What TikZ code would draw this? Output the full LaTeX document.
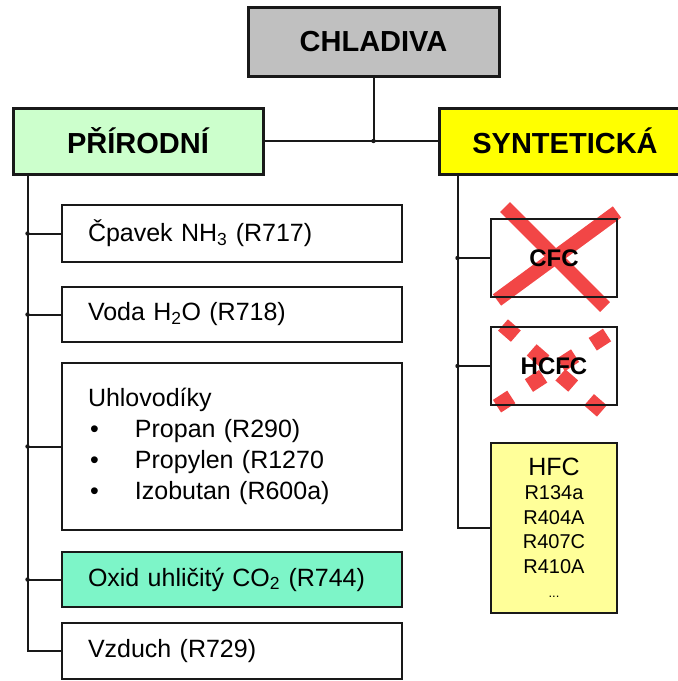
\documentclass[tikz,border=0pt]{standalone}
\usepackage{fontspec}
\setmainfont{Liberation Sans}
\usetikzlibrary{calc, positioning}
\definecolor{boxLine}{RGB}{25,25,25}
\definecolor{headGray}{RGB}{192,192,192}
\definecolor{natGreen}{RGB}{204,255,204}
\definecolor{synYellow}{RGB}{255,255,0}
\definecolor{oxidGreen}{RGB}{125,245,200}
\definecolor{hfcYellow}{RGB}{255,255,153}
\definecolor{crossRed}{RGB}{242,70,70}
\pgfdeclarelayer{background}
\pgfsetlayers{background,main}
\tikzstyle{catBox} = [rectangle, draw=boxLine, line width=3pt, inner sep=0pt, font=\fontsize{29}{33}\selectfont\bfseries]
\tikzstyle{itemBox} = [rectangle, draw=boxLine, line width=2.6pt, fill=white, inner xsep=26pt, inner ysep=0pt, text width=288pt, align=left, font=\fontsize{25}{31}\selectfont]
\tikzstyle{gasBox} = [rectangle, draw=boxLine, line width=2.6pt, minimum width=126pt, inner sep=0pt, font=\fontsize{24}{28}\selectfont\bfseries]
\tikzstyle{link} = [draw=boxLine, line width=2pt]
\tikzstyle{crossBar} = [draw=crossRed, line width=14pt]
\newcommand{\bul}{\makebox[47pt][l]{\hspace{2pt}\textbullet}}

\begin{document}
\begin{tikzpicture}[x=1pt, y=-1pt]
    \useasboundingbox (0,0) rectangle (678,681);

    % top level
    \node (chladiva) [catBox, fill=headGray, minimum width=251pt, minimum height=69pt] at (373.5,41.5) {CHLADIVA};
    \node (prirodni) [catBox, fill=natGreen, minimum width=250pt, minimum height=66pt] at (138,141) {PŘÍRODNÍ};
    \node (synteticka) [catBox, fill=synYellow, minimum width=252pt, minimum height=66pt] at (565,141) {SYNTETICKÁ};

    \coordinate (hub) at (chladiva.south |- prirodni.east);
    \draw [link] (chladiva) -- (hub);
    \draw [link] (prirodni) -- (synteticka);
    \fill [boxLine] (hub) circle (2.2pt);

    % natural refrigerants
    \node (cpavek) [itemBox, minimum height=57pt] at (232,233.5) {Čpavek NH\textsubscript{3} (R717)};
    \node (voda) [itemBox, minimum height=55pt] at (232,314.5) {Voda H\textsubscript{2}O (R718)};
    \node (uhlo) [itemBox, minimum height=167pt] at (232,446.5) {Uhlovodíky\\ \bul Propan (R290)\\ \bul Propylen (R1270\\ \bul Izobutan (R600a)};
    \node (oxid) [itemBox, fill=oxidGreen, minimum height=55pt] at (232,579.5) {Oxid uhličitý CO\textsubscript{2} (R744)};
    \node (vzduch) [itemBox, minimum height=56pt] at (232,651) {Vzduch (R729)};

    \coordinate (trunkL) at ([xshift=16pt]prirodni.south west);
    \draw [link] (trunkL) |- (vzduch.west);
    \foreach \n in {cpavek, voda, uhlo, oxid} {
        \draw [link] (trunkL |- \n.west) -- (\n.west);
        \fill [boxLine] (trunkL |- \n.west) circle (2.2pt);
    }

    % synthetic refrigerants
    \node (cfc) [gasBox, minimum height=78pt] at (554,258) {CFC};
    \node (hcfc) [gasBox, minimum height=78pt] at (554,366) {HCFC};
    \node (hfc) [gasBox, fill=hfcYellow, minimum height=170pt, align=center, font=\fontsize{20}{24.5}\selectfont] at (554,528)
        {{\fontsize{25}{27}\selectfont HFC}\\ R134a\\ R404A\\ R407C\\ R410A\\ {\fontsize{13}{24.5}\selectfont ...}};

    \begin{pgfonlayer}{background}
        \draw [crossBar] ($(cfc.center)+(-49,-51)$) -- ($(cfc.center)+(51,49)$);
        \draw [crossBar] ($(cfc.center)+(63,-46)$) -- ($(cfc.center)+(-57,42)$);
        \draw [crossBar, line width=15pt, dash pattern=on 17pt off 21pt] ($(hcfc.center)+(-51,-41)$) -- ($(hcfc.center)+(56,52)$);
        \draw [crossBar, line width=15pt, dash pattern=on 17pt off 21pt] ($(hcfc.center)+(53,-31)$) -- ($(hcfc.center)+(-66,46)$);
    \end{pgfonlayer}

    \coordinate (trunkR) at ([xshift=20pt]synteticka.south west);
    \draw [link] (trunkR) |- (hfc.west);
    \foreach \n in {cfc, hcfc} {
        \draw [link] (trunkR |- \n.west) -- (\n.west);
        \fill [boxLine] (trunkR |- \n.west) circle (2.2pt);
    }

\end{tikzpicture}
\end{document}
